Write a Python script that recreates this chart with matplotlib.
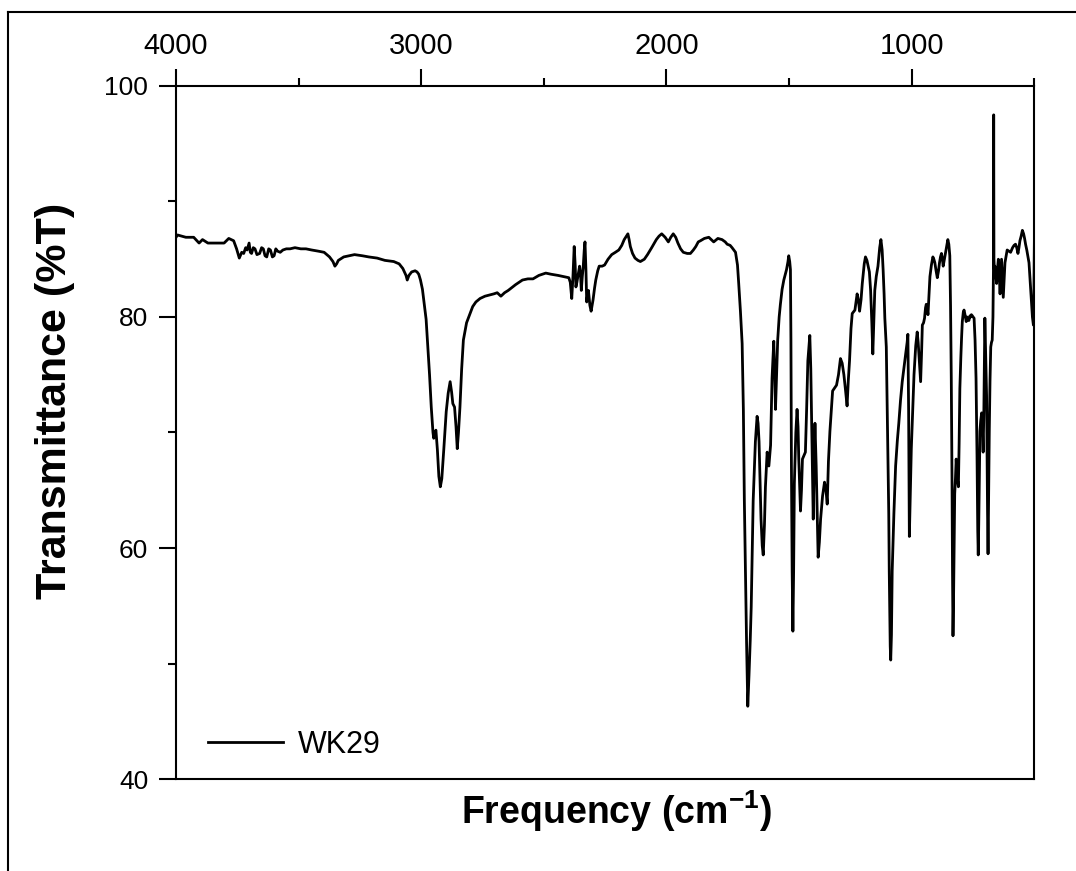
"""FTIR transmittance spectrum of sample WK29."""

import matplotlib
matplotlib.use("Agg")
import matplotlib.pyplot as plt
from matplotlib.lines import Line2D
from matplotlib.ticker import MultipleLocator

# ---------------------------------------------------------------------------
# Data
# ---------------------------------------------------------------------------
SAMPLE = "WK29"

wavenumber = [
    4000, 3994, 3960, 3928, 3906, 3892, 3870, 3841, 3804, 3785, 3765, 3753,
    3742, 3732, 3724, 3716, 3710, 3702, 3697, 3692, 3685, 3678, 3670, 3659,
    3651, 3644, 3637, 3630, 3622, 3615, 3607, 3600, 3593, 3586, 3575, 3564,
    3550, 3535, 3515, 3491, 3470, 3447, 3420, 3396, 3374, 3360, 3352, 3345,
    3338, 3316, 3295, 3272, 3240, 3214, 3180, 3148, 3112, 3090, 3075, 3062,
    3057, 3050, 3039, 3025, 3017, 3010, 3003, 2995, 2988, 2980, 2974, 2966,
    2959, 2952, 2949, 2944, 2940, 2934, 2928, 2922, 2916, 2908, 2898, 2890,
    2882, 2876, 2871, 2864, 2858, 2853, 2848, 2842, 2835, 2828, 2815, 2806,
    2790, 2777, 2760, 2740, 2722, 2704, 2690, 2675, 2660, 2645, 2615, 2587,
    2565, 2544, 2520, 2492, 2470, 2442, 2420, 2398, 2392, 2386, 2381, 2376,
    2372, 2369, 2365, 2361, 2354, 2350, 2347, 2343, 2339, 2335, 2332, 2328,
    2325, 2321, 2318, 2312, 2307, 2303, 2299, 2293, 2288, 2280, 2274, 2262,
    2252, 2238, 2223, 2208, 2194, 2182, 2172, 2163, 2157, 2152, 2147, 2138,
    2128, 2116, 2106, 2090, 2077, 2060, 2041, 2030, 2019, 2005, 1992, 1982,
    1972, 1962, 1953, 1942, 1931, 1915, 1902, 1890, 1880, 1870, 1861, 1845,
    1827, 1807, 1790, 1773, 1760, 1752, 1740, 1732, 1718, 1710, 1705, 1698,
    1691, 1686, 1682, 1677, 1673, 1668, 1663, 1658, 1654, 1646, 1637, 1630,
    1626, 1622, 1618, 1614, 1609, 1605, 1600, 1596, 1589, 1582, 1575, 1569,
    1562, 1558, 1555, 1550, 1546, 1540, 1535, 1528, 1521, 1510, 1504, 1501,
    1497, 1494, 1492, 1490, 1487, 1484, 1481, 1478, 1472, 1467, 1463, 1460,
    1453, 1449, 1445, 1433, 1428, 1423, 1415, 1411, 1408, 1404, 1401, 1397,
    1394, 1389, 1385, 1381, 1376, 1371, 1363, 1355, 1349, 1344, 1339, 1333,
    1322, 1306, 1298, 1290, 1283, 1276, 1270, 1263, 1258, 1253, 1247, 1242,
    1231, 1222, 1217, 1212, 1206, 1201, 1193, 1188, 1182, 1177, 1172, 1167,
    1162, 1158, 1154, 1150, 1144, 1137, 1130, 1125, 1120, 1116, 1112, 1109,
    1103, 1100, 1097, 1093, 1091, 1087, 1085, 1082, 1079, 1072, 1065, 1058,
    1052, 1045, 1038, 1030, 1024, 1018, 1015, 1012, 1009, 1005, 1001, 995,
    990, 983, 977, 973, 970, 966, 963, 959, 956, 951, 947, 943,
    940, 936, 933, 929, 925, 919, 913, 909, 905, 900, 895, 890,
    886, 882, 878, 874, 871, 866, 861, 856, 852, 848, 844, 841,
    838, 835, 833, 831, 829, 826, 824, 821, 818, 815, 812, 809,
    806, 803, 799, 796, 793, 789, 786, 782, 777, 774, 770, 766,
    762, 759, 756, 752, 749, 745, 741, 737, 733, 730, 728, 726,
    723, 721, 718, 714, 711, 708, 705, 703, 701, 698, 694, 692,
    690, 688, 686, 683, 680, 677, 674, 671, 668, 666, 665, 664,
    662, 660, 656, 653, 650, 646, 642, 639, 636, 633, 630, 626,
    623, 619, 615, 610, 603, 596, 588, 582, 576, 571, 566, 562,
    558, 553, 548, 543, 539, 535, 530, 525, 521, 516, 512, 507,
    503, 501, 499,
]

transmittance = [
    86.9, 87.1, 86.9, 86.9, 86.4, 86.7, 86.4, 86.4, 86.4, 86.8, 86.6, 85.9,
    85.1, 85.6, 85.5, 86.0, 85.8, 86.4, 85.6, 85.5, 86.0, 85.9, 85.4, 85.5,
    86.0, 85.9, 85.3, 85.2, 85.9, 85.8, 85.2, 85.3, 85.9, 85.7, 85.6, 85.8,
    85.9, 85.9, 86.0, 85.9, 85.9, 85.8, 85.7, 85.6, 85.2, 84.8, 84.4, 84.6,
    84.9, 85.2, 85.3, 85.4, 85.3, 85.2, 85.1, 84.9, 84.8, 84.6, 84.2, 83.6,
    83.2, 83.6, 83.9, 84.0, 83.9, 83.7, 83.2, 82.4, 81.2, 79.8, 77.7, 75.0,
    72.2, 70.0, 69.5, 70.0, 70.2, 68.5, 66.2, 65.3, 66.0, 68.5, 71.8, 73.4,
    74.4, 73.5, 72.5, 72.2, 70.5, 68.6, 70.0, 72.2, 75.5, 78.0, 79.5, 80.0,
    80.9, 81.3, 81.6, 81.8, 81.9, 82.0, 82.1, 81.8, 82.1, 82.3, 82.8, 83.2,
    83.3, 83.3, 83.6, 83.8, 83.7, 83.6, 83.5, 83.4, 83.0, 81.6, 83.5, 86.1,
    84.5, 82.6, 83.0, 83.5, 84.4, 83.6, 82.3, 83.5, 84.4, 85.8, 86.5, 84.0,
    81.3, 82.0, 82.3, 81.0, 80.5, 81.0, 81.5, 82.5, 83.2, 84.0, 84.4, 84.4,
    84.5, 85.0, 85.4, 85.6, 85.8, 86.2, 86.7, 87.0, 87.2, 86.7, 86.1, 85.5,
    85.1, 84.9, 84.8, 85.0, 85.4, 86.0, 86.7, 87.0, 87.2, 86.9, 86.5, 86.9,
    87.2, 86.9, 86.4, 85.9, 85.6, 85.5, 85.5, 85.8, 86.1, 86.5, 86.6, 86.8,
    86.9, 86.5, 86.8, 86.7, 86.5, 86.3, 86.2, 86.0, 85.6, 84.5, 82.9, 80.5,
    77.7, 72.0, 64.1, 57.0, 51.9, 46.3, 49.0, 52.0, 54.9, 64.1, 69.2, 71.4,
    70.8, 69.2, 66.0, 62.5, 60.2, 59.4, 62.0, 65.3, 68.3, 67.1, 68.9, 74.7,
    77.9, 75.0, 72.0, 75.5, 78.0, 80.0, 81.1, 82.4, 83.2, 84.1, 84.8, 85.3,
    84.8, 84.1, 78.0, 67.1, 58.0, 52.8, 58.0, 65.6, 70.0, 72.0, 70.5, 67.7,
    63.2, 65.0, 67.7, 68.3, 72.0, 76.2, 78.4, 75.5, 71.7, 66.5, 62.5, 68.0,
    70.8, 67.1, 63.0, 59.2, 60.5, 62.5, 64.5, 65.7, 65.0, 63.8, 67.5, 70.1,
    73.6, 74.1, 75.0, 76.4, 76.0, 75.0, 73.8, 72.3, 74.5, 76.2, 79.0, 80.3,
    80.6, 82.0, 81.5, 80.5, 81.5, 82.9, 84.6, 85.2, 84.9, 84.4, 83.9, 82.3,
    79.5, 76.8, 79.5, 82.3, 83.5, 84.4, 86.0, 86.7, 85.8, 84.1, 82.0, 79.9,
    77.4, 73.0, 68.6, 63.0, 58.0, 51.5, 50.3, 52.5, 58.0, 63.0, 67.1, 69.3,
    70.8, 72.8, 74.4, 75.8, 76.8, 77.8, 78.5, 72.0, 61.0, 65.0, 68.6, 72.0,
    75.0, 77.5, 78.7, 77.8, 76.8, 75.5, 74.4, 77.0, 79.3, 79.5, 79.9, 80.8,
    81.1, 80.7, 80.2, 81.8, 83.5, 84.5, 85.2, 85.0, 84.7, 84.0, 83.4, 84.0,
    84.7, 85.2, 85.5, 85.0, 84.4, 85.0, 85.6, 86.2, 86.7, 86.3, 85.3, 81.0,
    74.7, 66.0, 58.0, 52.4, 55.0, 60.5, 64.7, 66.0, 67.7, 66.5, 65.8, 65.3,
    69.0, 73.8, 76.5, 78.2, 79.6, 80.4, 80.6, 80.2, 79.6, 80.0, 79.7, 79.7,
    80.1, 80.0, 80.2, 80.1, 80.0, 79.9, 78.0, 74.7, 68.0, 61.5, 59.4, 62.0,
    67.0, 70.1, 71.0, 71.7, 70.5, 68.3, 72.0, 76.0, 79.9, 77.0, 73.2, 68.0,
    63.0, 59.5, 64.0, 70.1, 74.5, 77.4, 77.8, 78.0, 80.0, 84.0, 97.5, 85.0,
    84.0, 84.4, 83.5, 82.9, 84.0, 85.0, 83.5, 82.0, 83.5, 85.0, 83.5, 81.7,
    83.0, 84.7, 85.2, 85.8, 85.7, 85.6, 86.0, 86.2, 86.3, 86.0, 85.5, 86.0,
    86.6, 87.0, 87.5, 87.2, 86.8, 86.3, 85.8, 85.2, 84.7, 83.0, 81.7, 80.0,
    79.3, 82.0, 86.5,
]

X_TICKS = [4000, 3000, 2000, 1000]
Y_TICKS = [40, 60, 80, 100]

# ---------------------------------------------------------------------------
# Style
# ---------------------------------------------------------------------------
plt.rcParams.update({
    "font.family": ["Liberation Sans", "DejaVu Sans"],
    "mathtext.fontset": "custom",
    "mathtext.rm": "Liberation Sans",
    "mathtext.bf": "Liberation Sans:bold",
    "mathtext.default": "bf",
    "axes.linewidth": 1.5,
})

fig = plt.figure(figsize=(10.76, 8.71), dpi=100)
ax = fig.add_axes([0.1636, 0.1056, 0.7975, 0.7957])

ax.plot(wavenumber, transmittance, "-", color="black", linewidth=2.0,
        label=SAMPLE)

ax.set_xlim(4000, 500)
ax.set_ylim(40, 100)

# ticks: labels on top for x, left for y, pointing outward
ax.xaxis.tick_top()
ax.set_xticks(X_TICKS)
ax.xaxis.set_minor_locator(MultipleLocator(500))
ax.set_yticks(Y_TICKS)
ax.yaxis.set_minor_locator(MultipleLocator(10))
ax.tick_params(axis="x", which="both", direction="out", top=True,
               bottom=False, labeltop=True, labelbottom=False,
               labelsize=21, pad=7, width=1.5)
ax.tick_params(axis="y", which="both", direction="out", left=True,
               right=False, labelsize=19, pad=8, width=1.5)
ax.tick_params(which="major", length=12)
ax.tick_params(which="minor", length=6)

ax.xaxis.set_label_position("bottom")
ax.set_xlabel(r"Frequency (cm$^{-1}$)", fontsize=27, fontweight="bold")
ax.xaxis.set_label_coords(0.513, -0.013)
ax.set_ylabel("Transmittance (%T)", fontsize=31, fontweight="bold")
ax.yaxis.set_label_coords(-0.1175, 0.545)

ax.legend(loc="lower left", bbox_to_anchor=(0.005, -0.012), frameon=False,
          fontsize=22, handlelength=2.45, handletextpad=0.5)

# thin frame around the whole picture (top and left edges visible)
fy = 1 - 12 / 871
fx = 8 / 1076
fig.add_artist(Line2D([fx, fx], [0, fy], color="black", linewidth=1.5))
fig.add_artist(Line2D([fx, 1], [fy, fy], color="black", linewidth=1.5))

fig.savefig("out.png", dpi=100)
plt.close(fig)
